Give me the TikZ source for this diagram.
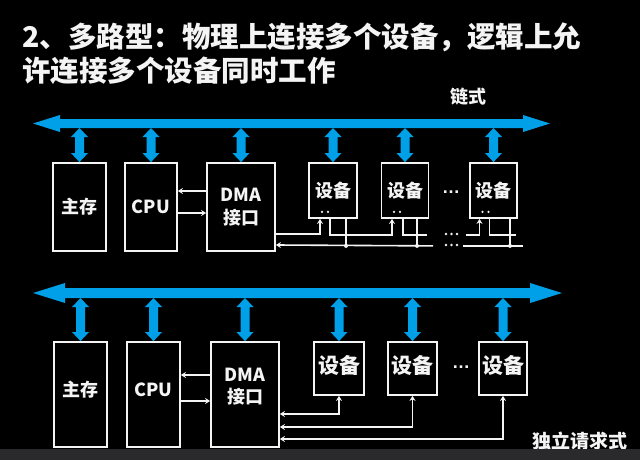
\documentclass[tikz,border=0pt]{standalone}
\usepackage{fontspec}
\setmainfont{Noto Sans CJK SC}
\newfontfamily\dotfont{Liberation Sans}
\usetikzlibrary{arrows.meta,calc}

\definecolor{busblue}{RGB}{0,160,232}
\definecolor{ink}{RGB}{244,244,244}
\definecolor{barbg}{RGB}{42,42,44}

% horizontal system bus: #1 left tip, #2 right tip, #3 half shaft, #4 half head, #5 head length
\newcommand{\hbusarrow}[5]{%
  \fill[busblue] (#1) -- ($(#1)+(#5,-#4)$) -- ($(#1)+(#5,-#3)$)
    -- ($(#2)+(-#5,-#3)$) -- ($(#2)+(-#5,-#4)$) -- (#2)
    -- ($(#2)+(-#5,#4)$) -- ($(#2)+(-#5,#3)$)
    -- ($(#1)+(#5,#3)$) -- ($(#1)+(#5,#4)$) -- cycle;}
% vertical two-way bus tap: #1 top point, #2 bottom point
\newcommand{\vbusarrow}[2]{%
  \fill[busblue] (#1) -- ($(#1)+(8.5,9)$) -- ($(#1)+(4.5,9)$)
    -- ($(#2)+(4.5,-9)$) -- ($(#2)+(8.5,-9)$) -- (#2)
    -- ($(#2)+(-8.5,-9)$) -- ($(#2)+(-4.5,-9)$)
    -- ($(#1)+(-4.5,9)$) -- ($(#1)+(-8.5,9)$) -- cycle;}

\begin{document}
\begin{tikzpicture}[x=1pt,y=-1pt,
  box/.style={draw=ink, line width=1.8pt, fill=black, inner sep=0pt, text=ink,
    align=center, font=\bfseries\fontsize{18}{23}\selectfont},
  lbl/.style={text=ink, inner sep=0pt, align=center, font=\bfseries\fontsize{18}{22}\selectfont},
  devlbl/.style={lbl, font=\bfseries\fontsize{21}{22}\selectfont},
  ellip/.style={text=ink, inner sep=0pt, text height=2pt, text depth=0pt,
    font=\dotfont\bfseries\fontsize{#1}{#1}\selectfont},
  wire/.style={draw=ink, line width=1.6pt},
  tipA/.tip={Stealth[length=5pt,width=6pt]},
  pinhole/.style={fill=ink},
  jdot/.style={fill=ink}]

\fill[black] (0,0) rectangle (640,460);
\useasboundingbox (0,0) rectangle (640,460);

% title
\node[text=ink, anchor=west, inner sep=0pt, font=\bfseries\fontsize{28.5}{34}\selectfont]
  (title1) at (22,37) {2、多路型：物理上连接多个设备，逻辑上允};
\node[text=ink, anchor=west, inner sep=0pt, font=\bfseries\fontsize{28.5}{34}\selectfont]
  (title2) at (22,71) {许连接多个设备同时工作};

% ---------- daisy chain ----------
\node[lbl] (chainlbl) at (468,97) {链式};
\coordinate (busAL) at (33,123.5);
\coordinate (busAR) at (550,123.5);
\coordinate (busAbot) at (0,128);
\hbusarrow{busAL}{busAR}{4.5}{8.5}{27}

\node[box, minimum width=53pt, minimum height=88pt] (mem1) at (79.5,207) {主存};
\node[box, minimum width=52pt, minimum height=88pt] (cpu1) at (151,207) {CPU};
\node[box, minimum width=68pt, minimum height=88pt] (dma1) at (241,207) {DMA\\接口};
\node[box, minimum width=48pt, minimum height=55pt] (dev1a) at (333,190.5) {设备};
\node[box, minimum width=47pt, minimum height=55pt] (dev1b) at (405,190.5) {设备};
\node[box, minimum width=47pt, minimum height=55pt] (dev1c) at (493.5,190.5) {设备};
\node[ellip=18] (dotsA) at (451,192) {…};

\foreach \b in {mem1,cpu1,dma1,dev1a,dev1b,dev1c}
  \vbusarrow{\b.north |- busAbot}{\b.north};

% CPU <-> DMA
\draw[wire,-tipA] ($(dma1.west)+(0,-16)$) -- ($(cpu1.east)+(0,-16)$);
\draw[wire,-tipA] ($(cpu1.east)+(0,6)$) -- ($(dma1.west)+(0,6)$);

% grant chain
\draw[wire,-tipA] ($(dma1.east)+(0,27)$) -| ($(dev1a.south)+(-13,0)$);
\draw[wire,-tipA] ($(dev1a.south)+(-3,0)$) |- ($(dev1b.south)+(-13,16)$) -- ($(dev1b.south)+(-13,0)$);
\draw[wire] ($(dev1b.south)+(-2,0)$) |- ($(dev1b.south)+(22,16)$);
\draw[wire,-tipA] ($(dev1c.south)+(-28,16)$) -| ($(dev1c.south)+(-14,0)$);
\draw[wire] ($(dev1c.south)+(-4,0)$) |- ($(dev1c.south)+(22,16)$);

% common request line
\draw[wire,-tipA] ($(dev1b.south)+(28,27)$) -- ($(dma1.east)+(0,38)$);
\draw[wire] ($(dev1a.south)+(13,0)$) -- ($(dev1a.south)+(13,27)$);
\draw[wire] ($(dev1b.south)+(12,0)$) -- ($(dev1b.south)+(12,27)$);
\draw[wire] ($(dev1c.south)+(-30.5,27)$) -- ($(dev1c.south)+(29.5,27)$);
\draw[wire] ($(dev1c.south)+(16.5,0)$) -- ($(dev1c.south)+(16.5,27)$);
\fill[jdot] ($(dev1a.south)+(13,27)$) circle (2);
\fill[jdot] ($(dev1b.south)+(12,27)$) circle (2);
\fill[jdot] ($(dev1c.south)+(16.5,27)$) circle (2);

% gap marks on both chain lines
\foreach \yy in {234,245}
  \foreach \xx in {446,451.5,457}
    \fill[ink] (\xx,\yy) circle (1.4);

% pin marks inside the devices
\foreach \b in {dev1a,dev1b,dev1c} {
  \fill[pinhole] ($(\b.south)+(-11,-7)$) circle (1.2);
  \fill[pinhole] ($(\b.south)+(-5,-7)$) circle (1.2);
}

% ---------- independent requests ----------
\coordinate (busBL) at (33,293);
\coordinate (busBR) at (562,293);
\coordinate (busBbot) at (0,298);
\hbusarrow{busBL}{busBR}{5}{10}{32}

\node[box, minimum width=53pt, minimum height=105pt,
  label={[lbl,yshift=4.5pt]center:主存}] (mem2) at (80.5,394.5) {};
\node[box, minimum width=53pt, minimum height=105pt,
  label={[lbl,yshift=4.5pt]center:CPU}] (cpu2) at (153.5,394.5) {};
\node[box, minimum width=68pt, minimum height=105pt,
  label={[lbl,yshift=7.5pt]center:DMA\\接口}] (dma2) at (245,394.5) {};
\node[box, minimum width=50pt, minimum height=53pt,
  label={[devlbl,yshift=3.5pt]center:设备}] (dev2a) at (339,368.5) {};
\node[box, minimum width=49pt, minimum height=53pt,
  label={[devlbl,yshift=3.5pt]center:设备}] (dev2b) at (412.5,368.5) {};
\node[box, minimum width=48pt, minimum height=53pt,
  label={[devlbl,yshift=3.5pt]center:设备}] (dev2c) at (503,368.5) {};
\node[ellip=18] (dotsD) at (461,367) {…};

\foreach \b in {mem2,cpu2,dma2,dev2a,dev2b,dev2c}
  \vbusarrow{\b.north |- busBbot}{\b.north};

\draw[wire,-tipA] ($(dma2.west)+(0,-19.5)$) -- ($(cpu2.east)+(0,-19.5)$);
\draw[wire,-tipA] ($(cpu2.east)+(0,6.5)$) -- ($(dma2.west)+(0,6.5)$);

\draw[wire,tipA-tipA] ($(dma2.east)+(0,19.5)$) -| (dev2a.south);
\draw[wire,tipA-tipA] ($(dma2.east)+(0,32.5)$) -| (dev2b.south);
\draw[wire,tipA-tipA] ($(dma2.east)+(0,44.5)$) -| (dev2c.south);

\node[lbl, font=\bfseries\fontsize{19}{20}\selectfont] (indeplbl) at (580,441) {独立请求式};

% status strip along the lower edge
\fill[barbg] (0,449) rectangle (640,460);
\end{tikzpicture}
\end{document}
